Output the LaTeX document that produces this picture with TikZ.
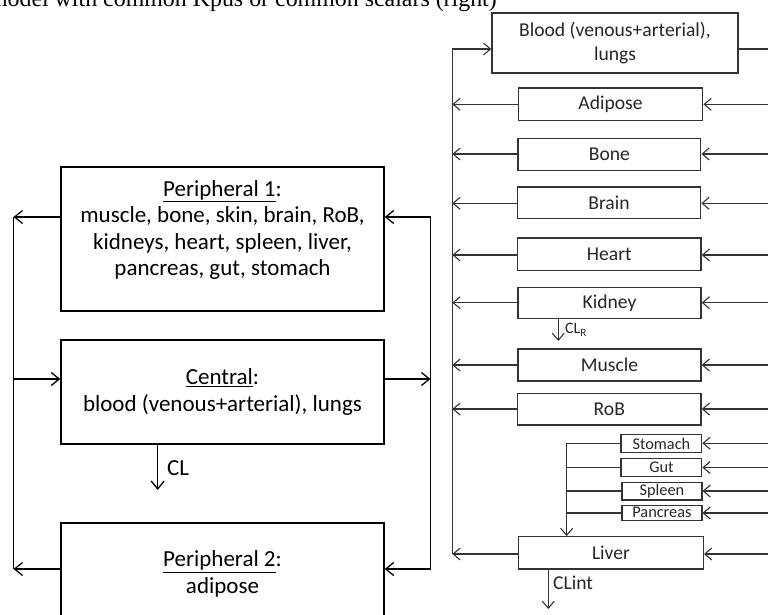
\documentclass[tikz,border=0pt]{standalone}
\usepackage{fontspec}
\setmainfont{Carlito}
\newfontfamily\timesfont{Liberation Serif}
\usetikzlibrary{arrows.meta}
\begin{document}
\begin{tikzpicture}[x=1pt,y=-1pt,
  lbox/.style={draw, line width=1.4pt, rectangle, inner sep=0pt},
  ltext/.style={inner sep=0pt, align=center, font=\fontsize{23}{26.5}\selectfont},
  rbox/.style={draw, line width=1.3pt, rectangle, inner sep=0pt, font=\fontsize{19.6}{24}\selectfont, color=black!80, text=black!85},
  sbox/.style={draw, line width=1.2pt, rectangle, inner sep=0pt, font=\fontsize{16.3}{19}\selectfont, color=black!80, text=black!85},
  lline/.style={line width=1.3pt},
  larr/.style={line width=1.3pt, -{Straight Barb[length=8,width=13,line width=1.3pt]}},
  rline/.style={line width=1.1pt, color=black!80},
  rarr/.style={line width=1.1pt, color=black!80, -{Straight Barb[length=7,width=12,line width=1.1pt]}}
]
\useasboundingbox (0,0) rectangle (768,614);
\clip (0,0) rectangle (768,614);

% title fragment
\node[anchor=base east, inner sep=0pt, font=\timesfont\fontsize{23.9}{28}\selectfont] (title) at (497,6.8) {model with common Kpus or common scalars (right)};

% ---------- left model ----------
\node[lbox, minimum width=323, minimum height=144] (p1) at (222.5,239) {};
\node[ltext] (p1t) at (222.5,230) {\underline{Peripheral 1}:\\muscle, bone, skin, brain, RoB,\\kidneys, heart, spleen, liver,\\pancreas, gut, stomach};
\node[lbox, minimum width=323, minimum height=104, ltext] (cen) at (222.5,392) {\underline{Central}:\\blood (venous+arterial), lungs};
\node[lbox, minimum width=323, minimum height=98] (p2) at (222.5,572) {};
\node[ltext] (p2t) at (222.5,574) {\underline{Peripheral 2}:\\adipose};

\coordinate (LT) at (13.5,217);
\coordinate (LC) at (13.5,379);
\coordinate (LB) at (13.5,569);
\coordinate (RT) at (430.5,217);
\coordinate (RC) at (430.5,379);
\coordinate (RB) at (430.5,569);
\draw[lline] (LT) -- (LB);
\draw[lline] (RT) -- (RB);
\draw[larr] (p1.west|-LT) -- (LT);
\draw[larr] (RT) -- (p1.east|-RT);
\draw[larr] (LC) -- (cen.west|-LC);
\draw[larr] (cen.east|-RC) -- (RC);
\draw[larr] (p2.west|-LB) -- (LB);
\draw[larr] (RB) -- (p2.east|-RB);
\coordinate (CLe) at (157.7,490);
\draw[larr] (cen.south-|CLe) -- (CLe);
\node[anchor=west, ltext] (cl) at (167,468) {CL};

% ---------- right model ----------
\node[rbox, minimum width=246, minimum height=60, align=center] (blood) at (615,43) {Blood (venous+arterial),\\lungs};
\node[rbox, minimum width=184.5, minimum height=32.3] (adi) at (610.5,104) {Adipose};
\node[rbox, minimum width=182.7, minimum height=32.4] (bone) at (609.4,154.5) {Bone};
\node[rbox, minimum width=183.4, minimum height=31.3] (brain) at (609,202.7) {Brain};
\node[rbox, minimum width=183.5, minimum height=32.3] (heart) at (609.3,254) {Heart};
\node[rbox, minimum width=183, minimum height=31.4] (kid) at (609.5,303) {Kidney};
\node[rbox, minimum width=183, minimum height=32] (mus) at (609.5,365) {Muscle};
\node[rbox, minimum width=183.5, minimum height=31.7] (rob) at (609.3,409.2) {RoB};
\node[sbox, minimum width=80.7, minimum height=18.4] (sto) at (661.4,443.4) {Stomach};
\node[sbox, minimum width=80.7, minimum height=18.3] (gut) at (661.4,467.5) {Gut};
\node[sbox, minimum width=80, minimum height=17.7] (spl) at (661.9,491.2) {Spleen};
\node[sbox, minimum width=80, minimum height=15.2] (pan) at (661.9,512.7) {Pancreas};
\node[rbox, minimum width=184.6, minimum height=32.3] (liv) at (611,552.9) {Liver};

% left collecting line
\coordinate (VT) at (452.3,49);
\coordinate (VB) at (452.3,554);
\draw[rline] (VT) -- (VB);
\draw[rarr] (VT) -- (blood.west|-VT);
\foreach \n/\yy in {adi/104.3, bone/154, brain/203.3, heart/255, kid/302.7, mus/365, rob/409, liv/554}{
  \draw[rarr] (\n.west|-0,\yy) -- (452.3,\yy);
  \draw[rarr] (775,\yy) -- (\n.east|-0,\yy);
}
\draw[rline] (blood.east|-VT) -- (775,49);
\foreach \n/\yy in {sto/443.2, gut/467.5, spl/491, pan/513}{
  \draw[rline] (\n.west|-0,\yy) -- (566.7,\yy);
  \draw[rarr] (775,\yy) -- (\n.east|-0,\yy);
}
\coordinate (BT) at (566.7,443.2);
\draw[rarr] (BT) -- (liv.north-|BT);

% clearances
\coordinate (CLRe) at (558.3,341);
\draw[rarr] (kid.south-|CLRe) -- (CLRe);
\node[anchor=west, inner sep=0pt, font=\fontsize{16}{19}\selectfont, text=black!85] (clr) at (565,330) {CL\textsubscript{R}};
\coordinate (CLIe) at (548.3,609);
\draw[rarr] (liv.south-|CLIe) -- (CLIe);
\node[anchor=west, inner sep=0pt, font=\fontsize{19.6}{23}\selectfont, text=black!85] (cli) at (553,583) {CLint};
\end{tikzpicture}
\end{document}
